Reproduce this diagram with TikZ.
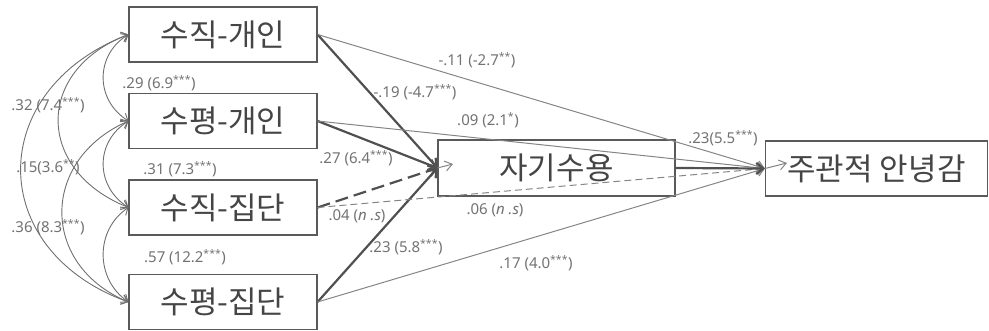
\documentclass[tikz,border=0pt]{standalone}
\usepackage{fontspec}
\setmainfont{Noto Sans}
\newfontfamily\kr{Noto Sans CJK KR}
\usetikzlibrary{arrows.meta}
\definecolor{boxline}{HTML}{5A5A5A}
\definecolor{boxtext}{HTML}{454545}
\definecolor{labgrey}{HTML}{727272}
\definecolor{strongcol}{HTML}{505050}
\definecolor{weakcol}{HTML}{858585}
\definecolor{covcol}{HTML}{707070}
\begin{document}
\begin{tikzpicture}[x=1pt,y=-1pt,
  vbox/.style={draw=boxline, line width=1.1pt, minimum width=188pt, minimum height=55pt, inner sep=0pt,
    font=\kr\fontsize{31}{33}\selectfont, text=boxtext},
  lab/.style={font=\fontsize{15}{17}\selectfont, text=labgrey, inner sep=0pt},
  barb/.tip={Straight Barb[length=7pt,width=11pt]},
  strongpath/.style={draw=strongcol, line width=2.2pt, -{barb}},
  weakpath/.style={draw=weakcol, line width=1pt, -{barb}},
  covpath/.style={draw=covcol, line width=0.9pt, {Straight Barb[length=6pt,width=10pt]}-{Straight Barb[length=6pt,width=10pt]}},
  shortarrow/.style={draw=weakcol, line width=1pt, -{Straight Barb[length=7pt,width=10pt]}}]
\useasboundingbox (0,0) rectangle (989,331);

% boxes
\node[vbox] (a1) at (223,34.5) {수직-개인};
\node[vbox] (a2) at (223,121) {수평-개인};
\node[vbox] (a3) at (223,207.5) {수직-집단};
\node[vbox] (a4) at (223,302) {수평-집단};
\node[vbox, minimum width=237pt, minimum height=56pt] (m) at (556.5,168) {자기수용};
\node[vbox, minimum width=222pt, minimum height=55pt] (r) at (876.5,168.5) {주관적 안녕감};

% paths to 자기수용
\draw[strongpath] (a1.east) -- (m.west);
\draw[strongpath] (a2.east) -- (m.west);
\draw[strongpath, dash pattern=on 13pt off 6pt] (a3.east) -- (m.west);
\draw[strongpath] (a4.east) -- (m.west);

% paths to 주관적 안녕감
\draw[weakpath] (a1.east) -- (r.west);
\draw[weakpath] (a2.east) -- (r.west);
\draw[weakpath, dash pattern=on 7pt off 4pt] (a3.east) -- (r.west);
\draw[weakpath] (a4.east) -- (r.west);
\draw[strongpath] (m.east) -- (r.west);

% short inner arrows
\coordinate (mtip) at (453,164);
\coordinate (rtip) at (787,163);
\draw[shortarrow] (m.west) -- (mtip);
\draw[shortarrow] (r.west) -- (rtip);

% covariances
\draw[covpath] (a1.west) .. controls (95,55) and (95,100) .. (a2.west);
\draw[covpath] (a2.west) .. controls (95,142) and (95,186) .. (a3.west);
\draw[covpath] (a3.west) .. controls (95,230) and (95,279) .. (a4.west);
\draw[covpath] (a1.west) .. controls (35,70) and (35,170) .. (a3.west);
\draw[covpath] (a2.west) .. controls (40,160) and (40,265) .. (a4.west);
\draw[covpath] (a1.west) .. controls (-15,90) and (-15,250) .. (a4.west);

% labels
\node[lab] (l1) at (477,60) {-.11 (-2.7\textsuperscript{**})};
\node[lab] (l2) at (415,92) {-.19 (-4.7\textsuperscript{***})};
\node[lab] (l3) at (488,120) {.09 (2.1\textsuperscript{*})};
\node[lab] (l4) at (356,158) {.27 (6.4\textsuperscript{***})};
\node[lab] (l5) at (723,138) {.23(5.5\textsuperscript{***})};
\node[lab] (l6) at (357,216) {.04 (\textit{n .s})};
\node[lab] (l7) at (495,210) {.06 (\textit{n .s})};
\node[lab] (l8) at (406,247) {.23 (5.8\textsuperscript{***})};
\node[lab] (l9) at (536,263) {.17 (4.0\textsuperscript{***})};
\node[lab] (c1) at (159,83) {.29 (6.9\textsuperscript{***})};
\node[lab] (c2) at (48,105) {.32 (7.4\textsuperscript{***})};
\node[lab] (c3) at (48,167) {.15(3.6\textsuperscript{**})};
\node[lab] (c4) at (180,169) {.31 (7.3\textsuperscript{***})};
\node[lab] (c5) at (48,227) {.36 (8.3\textsuperscript{***})};
\node[lab] (c6) at (185,257) {.57 (12.2\textsuperscript{***})};
\end{tikzpicture}
\end{document}
